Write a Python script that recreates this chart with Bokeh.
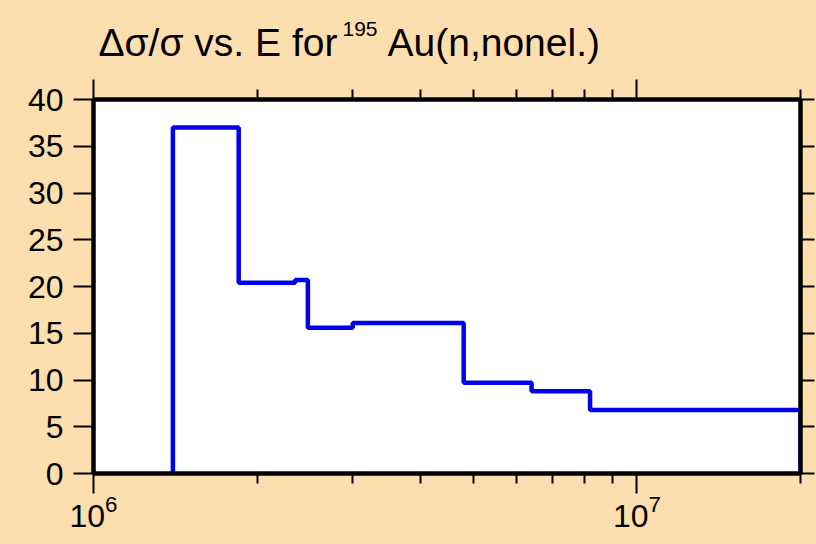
from bokeh.plotting import figure
from bokeh.layouts import column
from bokeh.models import (LogAxis, LinearAxis, FixedTicker, LogTickFormatter,
                          CustomJSTickFormatter)
from bokeh.core.properties import value
from bokeh.embed import file_html
from bokeh.resources import INLINE

# ---- data ----
edges = [1.4e6, 1.85e6, 2.35e6, 2.48e6, 3.0e6, 4.8e6, 6.4e6, 8.2e6, 2.0e7]
rel_unc = [37.0, 20.4, 20.7, 15.6, 16.1, 9.7, 8.8, 6.8]
y_ticks = [0, 5, 10, 15, 20, 25, 30, 35, 40]
x_major = [1e6, 1e7]
x_minor = [2e6, 3e6, 4e6, 5e6, 6e6, 7e6, 8e6, 9e6, 2e7]
title_main = "Δσ/σ vs. E for"
title_sup = "195"
title_rest = "Au(n,nonel.)"

BG = "#FDDEAF"
FONT = "Liberation Sans"
TITLE_H = 70
BL, BR = 93, 16

# step path built from the histogram edges and values
xs = [edges[0]]
ys = [0]
for i, v in enumerate(rel_unc):
    xs += [edges[i], edges[i + 1]]
    ys += [v, v]
xs.append(edges[-1])
ys.append(0)

# ---------- title strip (page pixel coordinates, y downward) ----------
tf = figure(width=816, height=TITLE_H,
            x_range=(BL, 816 - BR), y_range=(TITLE_H, 0),
            output_backend="svg", toolbar_location=None,
            x_axis_location=None, y_axis_location=None,
            min_border_left=BL, min_border_right=BR,
            min_border_top=0, min_border_bottom=0,
            outline_line_color=None,
            background_fill_color=BG, border_fill_color=BG)
tf.xgrid.visible = False
tf.ygrid.visible = False
tf.text(x=[98], y=[42], text=[title_main], text_font=value(FONT),
        text_font_size=value("39px"), text_color="black",
        text_align=value("left"), text_baseline=value("middle"))
tf.text(x=[342], y=[28], text=[title_sup], text_font=value(FONT),
        text_font_size=value("21px"), text_color="black",
        text_align=value("left"), text_baseline=value("middle"))
tf.text(x=[387], y=[42], text=[title_rest], text_font=value(FONT),
        text_font_size=value("39px"), text_color="black",
        text_align=value("left"), text_baseline=value("middle"))

# ---------- main plot ----------
p = figure(width=816, height=544 - TITLE_H, x_axis_type="log",
           x_range=(1e6, 2e7), y_range=(0, 40),
           output_backend="svg", toolbar_location=None,
           min_border_left=BL, min_border_right=BR,
           min_border_top=99 - TITLE_H, min_border_bottom=71,
           background_fill_color="white", border_fill_color=BG,
           outline_line_color="black", outline_line_width=4)
p.xgrid.visible = False
p.ygrid.visible = False

p.line(xs, ys, line_color="#0000EE", line_width=4.5)

blank_js = "return '';"

def style_common(ax):
    ax.axis_line_width = 4
    ax.axis_line_color = "black"
    ax.major_tick_line_width = 2
    ax.minor_tick_line_width = 2
    ax.major_tick_line_color = "black"
    ax.minor_tick_line_color = "black"
    ax.major_tick_in = 0
    ax.minor_tick_in = 0
    ax.major_label_text_font = FONT
    ax.major_label_text_color = "black"

xa = p.xaxis[0]
style_common(xa)
xa.ticker = FixedTicker(ticks=x_major, minor_ticks=x_minor)
xa.formatter = LogTickFormatter()
xa.major_tick_out = 20
xa.minor_tick_out = 10
xa.major_label_text_font_size = "32px"
xa.major_label_standoff = 1

ya = p.yaxis[0]
style_common(ya)
ya.ticker = FixedTicker(ticks=y_ticks)
ya.major_tick_out = 20
ya.minor_tick_line_color = None
ya.major_label_text_font_size = "32px"
ya.major_label_standoff = 10

ta = LogAxis(ticker=FixedTicker(ticks=x_major, minor_ticks=x_minor),
             formatter=CustomJSTickFormatter(code=blank_js))
style_common(ta)
ta.major_tick_out = 20
ta.minor_tick_out = 10
ta.major_label_text_font_size = "2px"
ta.major_label_standoff = 0
p.add_layout(ta, "above")

ra = LinearAxis(ticker=FixedTicker(ticks=y_ticks),
                formatter=CustomJSTickFormatter(code=blank_js))
style_common(ra)
ra.major_tick_out = 14
ra.minor_tick_line_color = None
ra.major_label_text_font_size = "2px"
ra.major_label_standoff = 0
p.add_layout(ra, "right")

layout = column(tf, p, spacing=0)

html = file_html(layout, INLINE)
html = html.replace("</head>",
                    "<style>html,body{background:%s;}</style></head>" % BG, 1)
open("out.html", "w", encoding="utf-8").write(html)
